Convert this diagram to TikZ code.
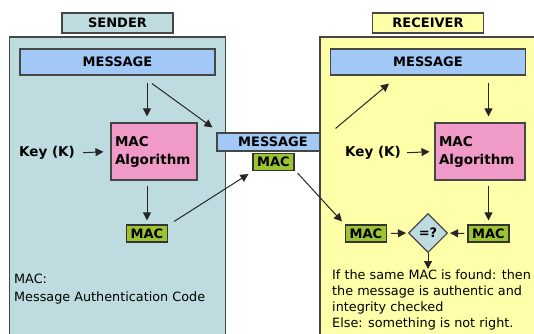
\documentclass[tikz,border=0pt]{standalone}
\usepackage{fontspec}
\setmainfont{DejaVu Sans}
\usetikzlibrary{shapes.geometric,arrows.meta}
\definecolor{senderfill}{RGB}{190,220,224}
\definecolor{receiverfill}{RGB}{255,255,170}
\definecolor{messagefill}{RGB}{162,200,246}
\definecolor{algfill}{RGB}{240,154,200}
\definecolor{macfill}{RGB}{155,195,50}
\definecolor{edgegray}{RGB}{70,70,70}

\begin{document}
\begin{tikzpicture}[x=1pt, y=-1pt, font=\fontsize{12.8}{16}\selectfont]
    % Define styles
    \tikzstyle{panel} = [rectangle, draw=edgegray, line width=1.1pt, inner sep=0pt]
    \tikzstyle{title} = [rectangle, draw=edgegray, line width=1.1pt, minimum width=111pt, minimum height=20pt, inner sep=0pt, font=\fontsize{13}{16}\selectfont\bfseries]
    \tikzstyle{message} = [rectangle, draw=edgegray, line width=1.1pt, fill=messagefill, inner sep=0pt, font=\fontsize{13}{16}\selectfont\bfseries]
    \tikzstyle{algorithm} = [rectangle, draw=edgegray, line width=1.1pt, fill=algfill, minimum height=57pt, inner xsep=4pt, align=left, font=\fontsize{13.5}{18}\selectfont\bfseries]
    \tikzstyle{mac} = [rectangle, draw=black!80, line width=1.1pt, fill=macfill, minimum width=41pt, minimum height=17pt, inner sep=0pt, font=\fontsize{13}{16}\selectfont\bfseries]
    \tikzstyle{compare} = [diamond, draw=edgegray, line width=1.1pt, fill=senderfill, minimum width=39pt, minimum height=39pt, inner sep=0pt, font=\fontsize{13}{16}\selectfont\bfseries]
    \tikzstyle{keylabel} = [inner sep=0pt, font=\fontsize{13.5}{16}\selectfont\bfseries]
    \tikzstyle{note} = [inner sep=0pt, align=left, anchor=north west]
    \tikzstyle{arr} = [-{Triangle[length=8pt,width=8pt]}, line width=1pt, black!85]

    \clip (0,0) rectangle (534,333);

    % Sender side
    \node [panel, fill=senderfill, minimum width=216pt, minimum height=320pt] (sender_panel) at (117.5,197) {};
    \node [title, fill=senderfill] (sender_title) at (117.5,23) {SENDER};
    \node [message, minimum width=195pt, minimum height=26pt] (s_message) at (117.5,62) {MESSAGE};
    \node [algorithm, text width=78pt] (s_alg) at (154,151.5) {MAC\\Algorithm};
    \node [keylabel] (s_key) at (47,153) {Key (K)};
    \node [mac] (s_mac) at (147,233.5) {MAC};
    \node [note, font=\fontsize{12.8}{17.5}\selectfont] (s_note) at (14,274) {MAC:\\Message Authentication Code};

    % Transmitted message
    \node [message, minimum width=112pt, minimum height=18pt] (m_message) at (273,142) {MESSAGE};
    \node [mac] (m_mac) at (273.5,162) {MAC};

    % Receiver side
    \node [panel, fill=receiverfill, minimum width=240pt, minimum height=320pt] (receiver_panel) at (440,197) {};
    \node [title, fill=receiverfill] (receiver_title) at (428,23) {RECEIVER};
    \node [message, minimum width=195pt, minimum height=26pt] (r_message) at (428,62) {MESSAGE};
    \node [algorithm, text width=82pt] (r_alg) at (480,151.5) {MAC\\Algorithm};
    \node [keylabel] (r_key) at (373,153) {Key (K)};
    \node [mac] (r_mac_in) at (366,233.5) {MAC};
    \node [mac] (r_mac_out) at (488.5,233.5) {MAC};
    \node [compare] (cmp) at (428,233) {=?};
    \node [note] (r_note) at (332,270) {If the same MAC is found: then\\the message is authentic and\\integrity checked\\Else: something is not right.};

    % Arrows on the sender side
    \draw [arr, shorten <=7pt, shorten >=6pt] (s_message.south -| s_mac) -- (s_alg.north -| s_mac);
    \draw [arr, shorten <=8pt, shorten >=7pt] (s_key.east) -- (s_alg.west);
    \draw [arr, shorten <=5pt, shorten >=4pt] (s_alg.south -| s_mac) -- (s_mac.north);
    \draw [arr] ([xshift=5pt,yshift=-8pt]s_message.south -| s_mac) -- ([xshift=-4pt,yshift=5pt]m_message.north west);
    \draw [arr] ([xshift=6pt,yshift=12pt]s_mac.east) -- ([xshift=-4pt,yshift=-3pt]m_mac.south west);

    % Arrows on the receiver side
    \draw [arr] ([xshift=6pt,yshift=4pt]m_message.north east) -- ([xshift=-39pt,yshift=-8pt]r_message.south);
    \draw [arr] ([xshift=3pt,yshift=-2pt]m_mac.south east) -- ([xshift=-3pt,yshift=3pt]r_mac_in.north west);
    \draw [arr, shorten <=7pt, shorten >=6pt] (r_message.south -| r_mac_out) -- (r_alg.north -| r_mac_out);
    \draw [arr, shorten <=6pt, shorten >=5pt] (r_key.east) -- (r_alg.west);
    \draw [arr, shorten <=5pt, shorten >=4pt] (r_alg.south -| r_mac_out) -- (r_mac_out.north);
    \draw [arr, shorten <=4pt, shorten >=2pt] (r_mac_in.east) -- (cmp.west);
    \draw [arr, shorten <=3pt, shorten >=2pt] (r_mac_out.west) -- (cmp.east);
    \draw [arr, shorten >=1pt] (cmp.south) -- (cmp.south |- r_note.north);
\end{tikzpicture}
\end{document}
